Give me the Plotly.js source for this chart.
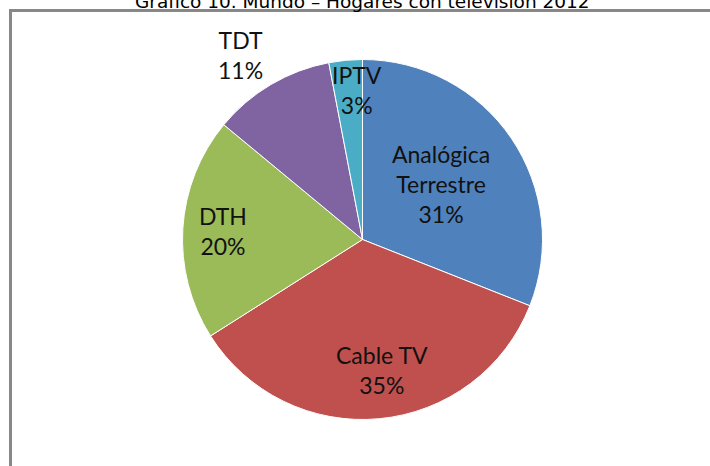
<!DOCTYPE html>
<html>
<head>
<meta charset="utf-8">
<script src="https://cdn.plot.ly/plotly-3.0.1.min.js"></script>
<style>html,body{margin:0;padding:0;background:#fff;}#chart{width:710px;height:466px;}</style>
</head>
<body>
<div id="chart"></div>
<script>
// Data
const categories = ["Analógica<br>Terrestre", "Cable TV", "DTH", "TDT", "IPTV"];
const shares = [31, 35, 20, 11, 3];
const colors = ["#4F81BD", "#C0504D", "#9BBB59", "#8064A2", "#4BACC6"];
const chartTitle = "Gráfico 10. Mundo – Hogares con televisión 2012";

// Layout geometry (pixels)
const W = 710, H = 466;
const cx = 362.5, cy = 239.5, R = 180;
const labelR = [0.553, 0.727, 0.765, 1.191, 0.837];
const labelShift = [-4, 7, -2, -13, 9];
const labelFont = {family: "Lato, 'Open Sans', sans-serif", size: 23, color: "#111111"};

const total = shares.reduce((a, b) => a + b, 0);
let cum = 0;
const annotations = [];
shares.forEach((v, i) => {
  const mid = (cum + v / 2) / total * 2 * Math.PI;
  cum += v;
  const r = R * labelR[i];
  const px = cx + r * Math.sin(mid) + labelShift[i];
  const py = cy - r * Math.cos(mid);
  annotations.push({
    xref: "paper", yref: "paper",
    x: px / W, y: 1 - py / H,
    xanchor: "center", yanchor: "middle",
    text: categories[i] + "<br>" + Math.round(v / total * 100) + "%",
    showarrow: false,
    font: labelFont,
    align: "center"
  });
});
annotations.push({
  xref: "paper", yref: "paper",
  x: 362 / W, y: 1 - 14 / H,
  xanchor: "center", yanchor: "bottom",
  text: chartTitle, showarrow: false,
  font: {family: "DejaVu Sans, sans-serif", size: 18.5, color: "#000"}
});

const trace = {
  type: "pie",
  labels: categories,
  values: shares,
  sort: false,
  direction: "clockwise",
  rotation: 0,
  textinfo: "none",
  hoverinfo: "none",
  marker: {colors: colors, line: {color: "#ffffff", width: 1}},
  domain: {x: [(cx - R) / W, (cx + R) / W], y: [1 - (cy + R) / H, 1 - (cy - R) / H]}
};

const layout = {
  width: W, height: H,
  margin: {l: 0, r: 0, t: 0, b: 0},
  paper_bgcolor: "#ffffff",
  showlegend: false,
  annotations: annotations,
  shapes: [{
    type: "rect", xref: "paper", yref: "paper",
    x0: 10.5 / W, x1: 1.05, y0: -0.05, y1: 1 - 10.5 / H,
    line: {color: "#888888", width: 3}, fillcolor: "rgba(0,0,0,0)", layer: "below"
  }]
};

Plotly.newPlot("chart", [trace], layout, {staticPlot: true, displayModeBar: false});
</script>
</body>
</html>
